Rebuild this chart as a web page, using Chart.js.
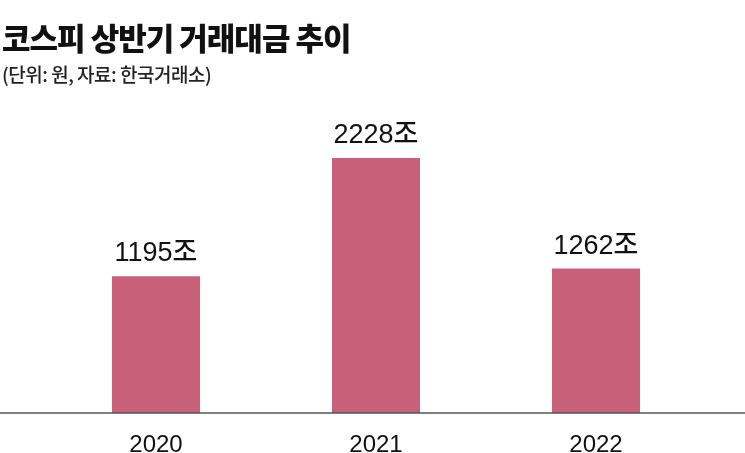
<!DOCTYPE html>
<html><head><meta charset="utf-8">
<script src="https://cdn.jsdelivr.net/npm/chart.js@4"></script>
<style>
body{margin:0;background:#fff;font-family:"Noto Sans CJK KR",sans-serif}
#wrap{position:relative;width:745px;height:453px}
#t{position:absolute;left:2px;top:14px;font-size:31px;font-weight:900;letter-spacing:-1px;color:#111}
#s{position:absolute;left:2px;top:60px;font-size:19px;font-weight:500;color:#222;letter-spacing:-0.5px}
canvas{position:absolute;left:0;top:0}
</style></head><body>
<div id="wrap">
<canvas id="c" width="745" height="453"></canvas>
<div id="t">코스피 상반기 거래대금 추이</div>
<div id="s">(단위: 원, 자료: 한국거래소)</div>
</div>
<script>
const years = ['2020', '2021', '2022'];
const amounts = [1195, 2228, 1262];
const unit = '조';

const baseLine = {
  id: 'baseLine',
  afterDatasetsDraw(chart) {
    const ctx = chart.ctx;
    const y = chart.scales.y.getPixelForValue(0);
    ctx.save();
    ctx.strokeStyle = '#555';
    ctx.lineWidth = 1.5;
    ctx.beginPath(); ctx.moveTo(0, y); ctx.lineTo(745, y); ctx.stroke();
    ctx.font = '500 27px "Liberation Sans", "Noto Sans CJK KR"';
    ctx.fillStyle = '#111';
    ctx.textAlign = 'center';
    ctx.textBaseline = 'bottom';
    chart.getDatasetMeta(0).data.forEach((bar, i) => {
      ctx.fillText(amounts[i] + unit, bar.x, bar.y - 9);
    });
    ctx.restore();
  }
};

new Chart(document.getElementById('c'), {
  type: 'bar',
  data: {
    labels: years,
    datasets: [{data: amounts, backgroundColor: '#c9607a', barPercentage: 0.4, categoryPercentage: 1}]
  },
  options: {
    responsive: false,
    animation: false,
    layout: {padding: {left: 46, right: 39, top: 100, bottom: 0}},
    plugins: {legend: {display: false}, tooltip: {enabled: false}},
    scales: {
      x: {
        grid: {display: false}, border: {display: false},
        ticks: {color: '#111', font: {size: 24, family: 'Liberation Sans'}, padding: 10},
        afterFit(scale) { scale.height = 40; }
      },
      y: {display: false, min: 0, max: 2735}
    }
  },
  plugins: [baseLine]
});
</script>
</body></html>
